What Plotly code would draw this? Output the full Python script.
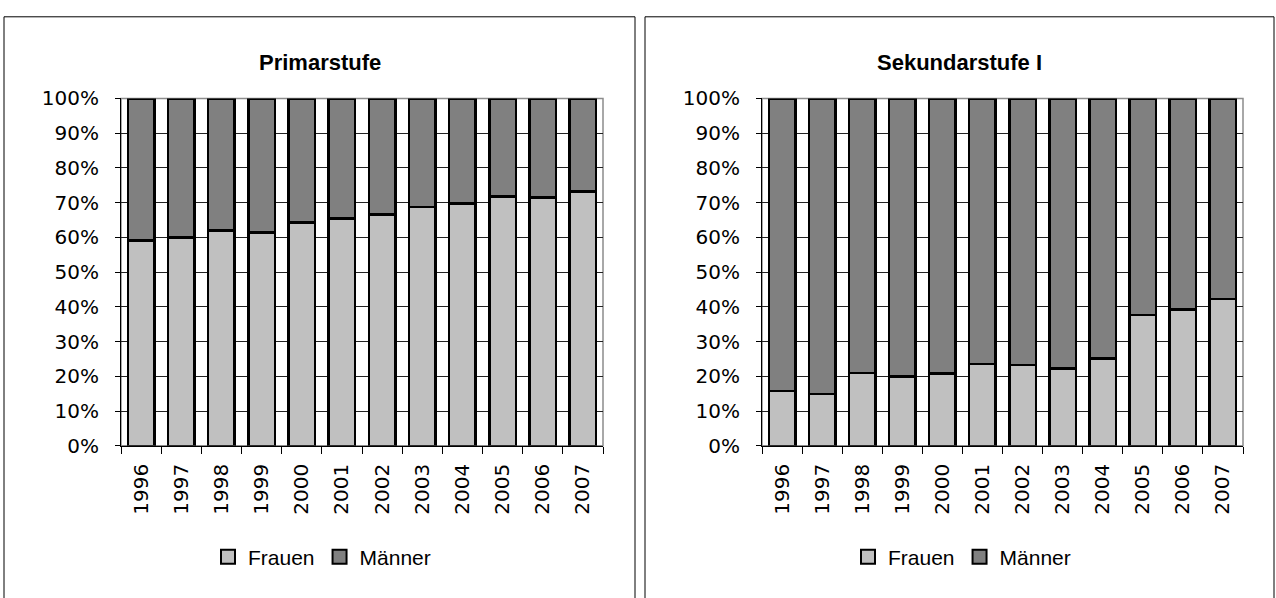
import plotly.graph_objects as go

years = ["1996", "1997", "1998", "1999", "2000", "2001",
         "2002", "2003", "2004", "2005", "2006", "2007"]

# Anteil Frauen (in %), Rest = Männer
primar_frauen = [59.1, 60.0, 62.0, 61.4, 64.3, 65.5, 66.6, 68.7, 69.8, 71.7, 71.5, 73.2]
sek1_frauen = [15.8, 14.9, 20.9, 19.9, 20.8, 23.6, 23.2, 22.2, 25.2, 37.6, 39.2, 42.2]

primar_maenner = [100 - v for v in primar_frauen]
sek1_maenner = [100 - v for v in sek1_frauen]

titles = ["Primarstufe", "Sekundarstufe I"]

W, H = 1276, 598
col_frauen = "#c0c0c0"
col_maenner = "#808080"
tick_font = dict(family="DejaVu Sans", size=20, color="black")

fig = go.Figure()

panels = [
    ("x", "y", "legend", primar_frauen, primar_maenner),
    ("x2", "y2", "legend2", sek1_frauen, sek1_maenner),
]
for xa, ya, lg, frauen, maenner in panels:
    for name, vals, col in [("Frauen", frauen, col_frauen), ("Männer", maenner, col_maenner)]:
        fig.add_trace(go.Bar(
            x=years, y=[v / 100 for v in vals], name=name,
            marker=dict(color=col, line=dict(color="black", width=2.5)),
            xaxis=xa, yaxis=ya, showlegend=False
        ))
    # Legendeneinträge mit größeren Quadraten
    for name, col in [("Frauen", col_frauen), ("Männer", col_maenner)]:
        fig.add_trace(go.Scatter(
            x=[None], y=[None], mode="markers", name=name,
            marker=dict(symbol="square", size=14, color=col,
                        line=dict(color="black", width=2)),
            xaxis=xa, yaxis=ya, legend=lg
        ))

x_dom = [[121 / W, 603 / W], [762 / W, 1243 / W]]
y_dom = [1 - 452 / H, 1 - 90 / H]

for i, dom in enumerate(x_dom):
    sfx = "" if i == 0 else str(i + 1)
    fig.update_layout({
        "xaxis" + sfx: dict(
            domain=dom, anchor="y" + sfx, type="category",
            categoryorder="array", categoryarray=years,
            showline=True, linecolor="black", linewidth=1,
            ticks="outside", ticklen=7, tickcolor="black", tickson="boundaries",
            tickangle=-90, tickfont=tick_font, ticklabelstandoff=9,
            showgrid=False
        ),
        "yaxis" + sfx: dict(
            domain=y_dom, anchor="x" + sfx, range=[0, 1], dtick=0.1,
            tickformat=".0%", showline=True, linecolor="black", linewidth=1,
            ticks="outside", ticklen=5, tickcolor="black",
            tickfont=tick_font, ticklabelstandoff=12,
            showgrid=True, gridcolor="#222", gridwidth=1, zeroline=False
        ),
    })
    # grauer Rahmen der Zeichnungsfläche
    fig.add_shape(type="rect", xref="x" + sfx + " domain", yref="y" + sfx + " domain",
                  x0=0, x1=1, y0=0, y1=1, line=dict(color="#8c8c8c", width=1.5),
                  layer="below")

# Rahmen der beiden Diagramme
fig.add_shape(type="rect", xref="paper", yref="paper",
              x0=4 / W, x1=635 / W, y0=-0.05, y1=1 - 5 / H,
              line=dict(color="black", width=1))
fig.add_shape(type="rect", xref="paper", yref="paper",
              x0=645 / W, x1=1274 / W, y0=-0.05, y1=1 - 5 / H,
              line=dict(color="black", width=1))

for cx, t in zip([319.5 / W, 959.5 / W], titles):
    fig.add_annotation(text="<b>" + t + "</b>", xref="paper", yref="paper",
                       x=cx, y=1 - 53 / H, xanchor="center", yanchor="middle",
                       showarrow=False,
                       font=dict(family="Liberation Sans", size=22, color="black"))

legend_style = dict(orientation="h", xanchor="center", yanchor="middle",
                    y=1 - 568 / H, traceorder="normal",
                    font=dict(family="Liberation Sans", size=21, color="black"),
                    bgcolor="rgba(0,0,0,0)", itemwidth=30)

fig.update_layout(
    width=W, height=H,
    margin=dict(l=0, r=0, t=0, b=0),
    paper_bgcolor="white", plot_bgcolor="white",
    barmode="stack", bargap=0.34,
    legend=dict(x=322 / W, **legend_style),
    legend2=dict(x=962 / W, **legend_style),
)

# Seitenrand des Browsers entfernen, damit die Grafik bei (0,0) beginnt
fig.write_html("out.html", config={"displayModeBar": False},
               post_script="document.body.style.margin='0';document.body.style.overflow='hidden';")
